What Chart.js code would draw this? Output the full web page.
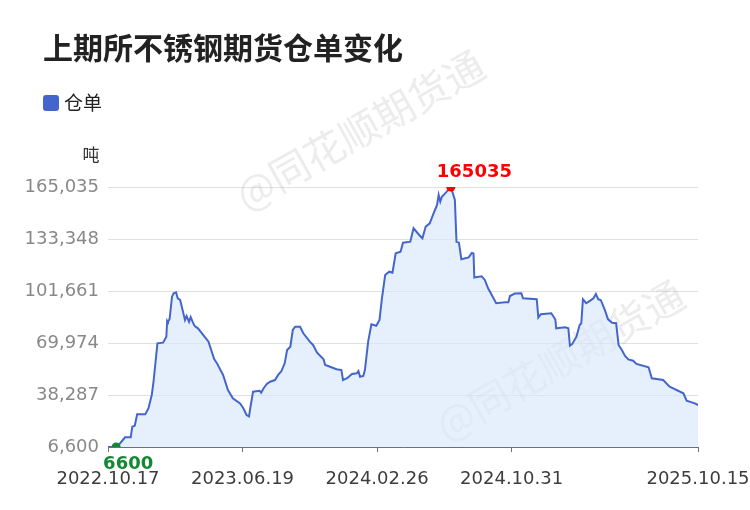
<!DOCTYPE html>
<html>
<head>
<meta charset="utf-8">
<script src="https://cdn.jsdelivr.net/npm/chart.js@4.4.1/dist/chart.umd.min.js"></script>
<style>
  html, body { margin: 0; padding: 0; background: #ffffff; }
  #wrap { width: 750px; height: 510px; position: relative; }
</style>
</head>
<body>
<div id="wrap"><canvas id="c" width="750" height="510"></canvas></div>
<script>
// ---- data (trading-day index along the axis, warehouse warrants in tonnes) ----
const chartTitle = "上期所不锈钢期货仓单变化";
const seriesName = "仓单";
const unitLabel = "吨";
const dayIndex = [0,10,15,21,28,30,33,36,46,50,54,56,61,68,72,73,74,76,79,81,84,86,89,93,95,97,100,102,105,107,111,124,131,134,142,148,154,163,167,171,174,176,179,187,189,192,196,200,206,210,214,218,221,225,228,231,237,241,249,253,258,266,268,274,282,288,290,295,301,307,309,311,315,317,321,325,331,335,338,342,347,351,355,361,364,373,377,384,388,392,397,401,406,408,410,412,418,423,428,430,433,436,445,449,451,452,461,465,469,479,490,494,496,502,510,512,529,531,534,547,552,553,564,568,570,573,578,582,584,586,590,595,599,602,605,608,613,617,622,627,630,634,638,642,648,652,667,671,685,693,710,714,724,728];
const warrants = [6600,6600,8900,12500,12500,19000,19600,26500,26500,30300,38300,45600,69800,70200,73800,83500,82800,84600,98200,100300,100900,97200,96200,88100,84000,86400,82800,85800,82200,80300,78900,70800,60200,58000,50500,41300,36300,33200,30200,26100,25200,31600,40300,40900,39700,42400,45000,46400,47400,50500,52900,57600,65700,67700,77900,79900,79900,75900,70800,68800,64100,60000,56600,55500,54000,53500,47400,48500,51100,51500,52900,49400,49900,53500,70800,81400,80500,84000,97200,111400,113400,112800,124600,125600,131100,131700,139900,135800,133800,140900,142900,148000,154100,160200,156100,159100,162200,165035,157100,131700,131100,121000,122100,124800,124500,109900,110600,108400,103300,94200,94800,94800,98600,100100,100300,97200,96700,85500,87500,88100,84300,78900,79500,78900,68300,69400,73800,80900,82000,96600,94200,95800,97200,99800,96600,96200,90100,84400,82300,82000,68800,65700,62100,60000,59200,57200,55200,48500,47400,43400,39300,34800,33200,32200];
const xTickIndex = [0,166,332,498,728];
const xTickLabels = ["2022.10.17","2023.06.19","2024.02.26","2024.10.31","2025.10.15"];
const yTickValues = [6600,38287,69974,101661,133348,165035];
const watermarkText = "@同花顺期货通";

const points = dayIndex.map((d, i) => ({ x: d, y: warrants[i] }));
let maxIdx = 0, minIdx = 0;
warrants.forEach((v, i) => { if (v > warrants[maxIdx]) maxIdx = i; if (v <= warrants[minIdx]) minIdx = i; });

const FONT = "'DejaVu Sans', 'Noto Sans CJK SC', sans-serif";
const CJK = "'Noto Sans CJK SC', 'DejaVu Sans', sans-serif";
const LINE = "#4466cc";

const decor = {
  id: 'decor',
  beforeDatasetsDraw(chart) {
    const ctx = chart.ctx;
    ctx.save();
    ctx.font = "40px " + CJK;
    ctx.fillStyle = "rgba(160,160,160,0.2)";
    ctx.textAlign = "center";
    ctx.textBaseline = "middle";
    [[360, 130], [560, 360]].forEach(([cx, cy]) => {
      ctx.save();
      ctx.translate(cx, cy);
      ctx.rotate(-29.5 * Math.PI / 180);
      ctx.fillText(watermarkText, 0, 0);
      ctx.restore();
    });
    ctx.restore();
  },
  afterDraw(chart) {
    const ctx = chart.ctx;
    ctx.save();
    // title
    ctx.fillStyle = "#222222";
    ctx.font = "bold 30px " + CJK;
    ctx.textAlign = "left";
    ctx.textBaseline = "middle";
    ctx.fillText(chartTitle, 43, 48);
    // legend
    ctx.fillStyle = LINE;
    ctx.beginPath();
    if (ctx.roundRect) ctx.roundRect(43, 95, 16, 16, 3); else ctx.rect(43, 95, 16, 16);
    ctx.fill();
    ctx.fillStyle = "#222222";
    ctx.font = "19px " + CJK;
    ctx.fillText(seriesName, 64, 103);
    // unit
    ctx.fillStyle = "#333333";
    ctx.font = "17px " + CJK;
    ctx.textAlign = "center";
    ctx.fillText(unitLabel, 91, 155);
    // max / min labels
    const meta = chart.getDatasetMeta(0);
    const pMax = meta.data[maxIdx], pMin = meta.data[minIdx];
    ctx.font = "bold 18px " + FONT;
    ctx.textAlign = "left";
    ctx.fillStyle = "#ff0000";
    ctx.fillText(String(warrants[maxIdx]), pMax.x - 14, pMax.y - 15);
    ctx.fillStyle = "#118833";
    ctx.fillText(String(warrants[minIdx]), pMin.x - 13, pMin.y + 17);
    ctx.restore();
  }
};

new Chart(document.getElementById('c'), {
  type: 'line',
  data: {
    datasets: [{
      label: seriesName,
      data: points,
      borderColor: LINE,
      borderWidth: 2,
      backgroundColor: "rgba(216,232,252,0.65)",
      fill: 'start',
      tension: 0,
      pointRadius: (c) => (c.dataIndex === maxIdx || c.dataIndex === minIdx) ? 4.5 : 0,
      pointBackgroundColor: (c) => c.dataIndex === maxIdx ? "#ff0000" : "#118833",
      pointBorderWidth: 0,
      pointHoverRadius: 0
    }]
  },
  options: {
    responsive: false,
    animation: false,
    layout: { padding: { top: 187, right: 52, left: 0, bottom: 0 } },
    plugins: { legend: { display: false }, tooltip: { enabled: false }, title: { display: false } },
    scales: {
      x: {
        type: 'linear',
        min: 0,
        max: 728,
        afterBuildTicks: (s) => { s.ticks = xTickIndex.map(v => ({ value: v })); },
        afterFit: (s) => { s.height = 63; s.paddingLeft = 0; s.paddingRight = 0; },
        ticks: {
          autoSkip: false,
          maxRotation: 0,
          padding: 17,
          color: "#3d3d3d",
          font: { family: FONT, size: 18 },
          callback: (v) => { const k = xTickIndex.indexOf(v); return k >= 0 ? xTickLabels[k] : ''; }
        },
        grid: { display: true, drawOnChartArea: false, drawTicks: true, tickLength: 5, color: "#6e7079" },
        border: { display: true, color: "#6e7079", width: 1 }
      },
      y: {
        min: yTickValues[0],
        max: yTickValues[yTickValues.length - 1],
        afterBuildTicks: (s) => { s.ticks = yTickValues.map(v => ({ value: v })); },
        afterFit: (s) => { s.width = 108; s.paddingTop = 0; s.paddingBottom = 0; },
        ticks: {
          padding: 9,
          color: "#888888",
          font: { family: FONT, size: 18 },
          callback: (v) => Number(v).toLocaleString('en-US')
        },
        grid: { color: "#e0e0e0", drawTicks: false, lineWidth: 1 },
        border: { display: false }
      }
    }
  },
  plugins: [decor]
});
</script>
</body>
</html>
